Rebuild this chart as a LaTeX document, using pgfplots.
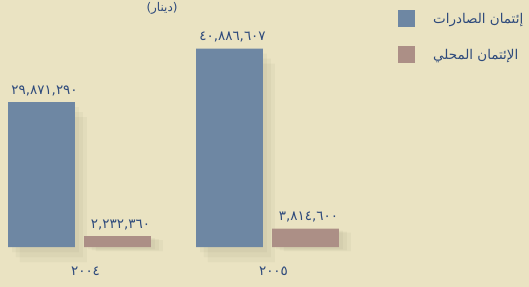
\documentclass[border=0pt]{standalone}
\usepackage{pgfplots}
\pgfplotsset{compat=1.18}
\usepackage{pgfplotstable}
\usepackage{fontspec}
\newfontfamily\arabicfont[Script=Arabic]{DejaVu Sans}
\TeXXeTstate=1
\definecolor{bg}{HTML}{EAE3C2}
\definecolor{barblue}{HTML}{6E87A3}
\definecolor{barpink}{HTML}{AC8F86}
\definecolor{txtblue}{HTML}{2E4A7C}
\definecolor{shade}{HTML}{5A5A40}
\pgfplotstableread{
x y
0 29871290
1 40886607
}\exports
\pgfplotstableread{
x y
0 2232360
1 3814600
}\domestic
\begin{document}
\begin{tikzpicture}
\clip (0,0) rectangle (529bp,287bp);
\fill[bg] (0,0) rectangle (529bp,287bp);
\begin{axis}[
  at={(0,0)}, anchor=south west,
  scale only axis, width=529bp, height=287bp,
  xmin=-0.4229, xmax=2.391,
  ymin=-8247000, ymax=50928000,
  axis line style={draw=none},
  ticks=none, clip=false,
  ybar, bar width=0.356,
  point meta=explicit symbolic,
  nodes near coords style={font=\arabicfont\fontsize{13.5}{15}\selectfont, text=txtblue, anchor=south, xshift=3bp, yshift=3bp},
  legend cell align=left,
  legend style={at={(axis description cs:0.7524,0.965)}, anchor=north west, draw=none, fill=none,
    font=\arabicfont\fontsize{13.5}{15}\selectfont, text=txtblue, row sep=19bp, inner sep=0pt,
    /tikz/every odd column/.append style={column sep=16bp}},
  legend image code/.code={\fill[#1] (0bp,-8bp) rectangle (17bp,9bp);},
  shadow/.style={forget plot, fill=shade, fill opacity=0.05, draw=none},
]
% soft shadows, same data, offset right and down
\addplot[shadow, bar shift=-0.181, yshift=-5bp] table {\exports};
\addplot[shadow, bar shift=-0.160, yshift=-10bp] table {\exports};
\addplot[shadow, bar shift=-0.139, yshift=-15bp] table {\exports};
\addplot[shadow, bar shift=0.223, yshift=-2bp] table {\domestic};
\addplot[shadow, bar shift=0.244, yshift=-3bp] table {\domestic};
\addplot[shadow, bar shift=0.265, yshift=-4bp] table {\domestic};
\addplot[fill=barblue, draw=none, bar shift=-0.202, nodes near coords] coordinates {(0,29871290) [٢٩,٨٧١,٢٩٠] (1,40886607) [٤٠,٨٨٦,٦٠٧]};
\addlegendentry{\beginR إئتمان الصادرات\endR}
\addplot[fill=barpink, draw=none, bar shift=0.202, nodes near coords] coordinates {(0,2232360) [٢,٢٣٢,٣٦٠] (1,3814600) [٣,٨١٤,٦٠٠]};
\addlegendentry{\beginR الإئتمان المحلي\endR}
\node[font=\arabicfont\fontsize{13.5}{15}\selectfont, text=txtblue, xshift=6bp] at (axis cs:0,-4950000) {٢٠٠٤};
\node[font=\arabicfont\fontsize{13.5}{15}\selectfont, text=txtblue, xshift=6bp] at (axis cs:1,-4950000) {٢٠٠٥};
\end{axis}
\node[font=\arabicfont\fontsize{12}{14}\selectfont, text=txtblue] at (162bp,279bp) {\beginR (دينار)\endR};
\end{tikzpicture}
\end{document}
